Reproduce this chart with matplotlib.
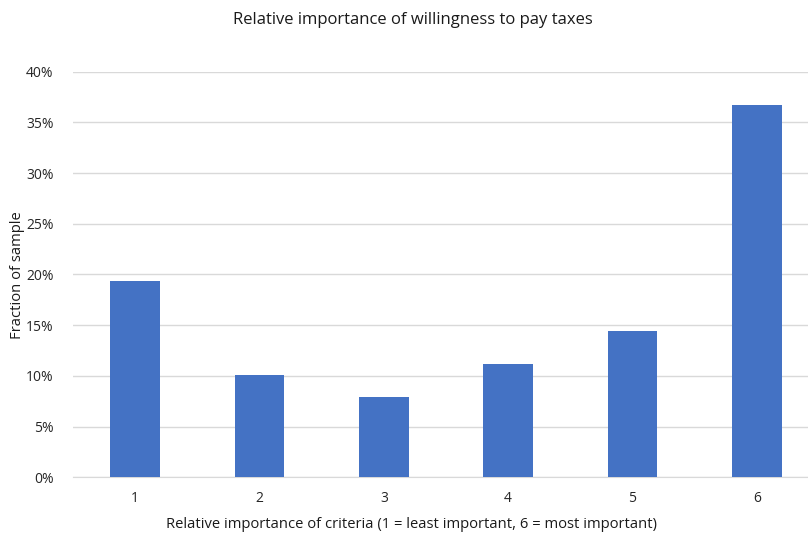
import matplotlib.pyplot as plt
from matplotlib.ticker import PercentFormatter

# values
categories = ['1', '2', '3', '4', '5', '6']
fractions = [0.194, 0.101, 0.079, 0.112, 0.144, 0.367]
yticks = [0, 0.05, 0.10, 0.15, 0.20, 0.25, 0.30, 0.35, 0.40]

plt.rcParams['font.family'] = ['Open Sans', 'DejaVu Sans']

W, H = 808, 538
fig = plt.figure(figsize=(W / 100, H / 100), dpi=100)
# axes run a bit past the right edge, like the cropped original
ax = fig.add_axes([73 / W, 60.7 / H, (819 - 73) / W, 405.6 / H])

x = range(len(categories))
ax.bar(x, fractions, width=0.4, color='#4472c4', zorder=3)

ax.set_xlim(-0.5, len(categories) - 0.5)
ax.set_ylim(0, 0.4)
ax.set_yticks(yticks)
ax.yaxis.set_major_formatter(PercentFormatter(1.0, decimals=0))
ax.set_xticks(list(x))
ax.set_xticklabels(categories)

ax.grid(axis='y', color='#d9d9d9', linewidth=1, zorder=0)
for s in ['top', 'right', 'left']:
    ax.spines[s].set_visible(False)
ax.spines['bottom'].set_color('#d9d9d9')
ax.tick_params(axis='both', length=0, labelsize=10, colors='#262626')
ax.tick_params(axis='y', pad=14)
ax.tick_params(axis='x', pad=10)

fig.text(413 / W, 1 - 20 / H, 'Relative importance of willingness to pay taxes',
         ha='center', va='center', fontsize=12, color='#1a1a1a')
fig.text(412 / W, 1 - 524 / H,
         'Relative importance of criteria (1 = least important, 6 = most important)',
         ha='center', va='center', fontsize=10.6, color='#1a1a1a')
fig.text(18 / W, 1 - 275 / H, 'Fraction of sample', rotation=90,
         ha='center', va='center', fontsize=10.6, color='#1a1a1a')

fig.savefig('out.png', dpi=100)
